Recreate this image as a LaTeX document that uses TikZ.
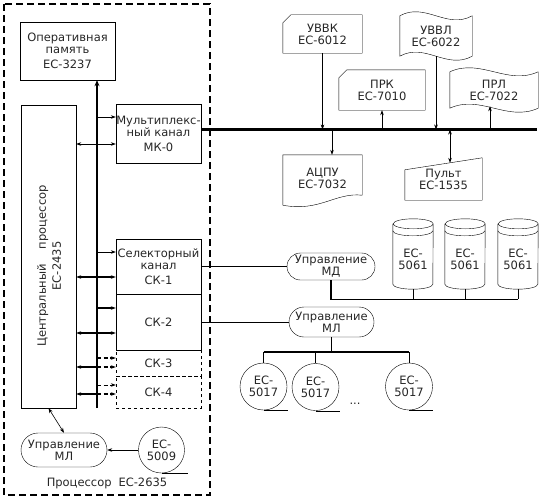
\documentclass[tikz,border=0pt]{standalone}
\usepackage{fontspec}
\setmainfont{DejaVu Sans}
\usetikzlibrary{arrows.meta,shapes.misc,calc}

% punch card outline: cut corner top left
\newcommand\cardedge[1]{%
  \draw ([xshift=8pt]#1.north west) -- (#1.north east) -- (#1.south east)
    -- (#1.south west) -- ([yshift=-8pt]#1.north west) -- cycle;}
% punched tape outline: wavy top and bottom
\newcommand\tapeedge[1]{%
  \draw (#1.north west)
    .. controls ($(#1.north west)!0.35!(#1.north east)+(0,-14)$)
            and ($(#1.north west)!0.65!(#1.north east)+(0,14)$) .. (#1.north east)
    -- (#1.south east)
    .. controls ($(#1.south west)!0.65!(#1.south east)+(0,14)$)
            and ($(#1.south west)!0.35!(#1.south east)+(0,-14)$) .. (#1.south west)
    -- cycle;}
% disk pack outline
\newcommand\diskedge[1]{%
  \draw ([yshift=-5pt]#1.north west) -- ([yshift=15pt]#1.south west)
    arc[start angle=180,end angle=360,x radius=20pt,y radius=5pt]
    -- ([yshift=-5pt]#1.north east)
    arc[start angle=0,end angle=360,x radius=20pt,y radius=5pt];
  \draw ([yshift=-12pt]#1.north west)
    arc[start angle=180,end angle=360,x radius=20pt,y radius=5pt];
  \draw ([yshift=10pt]#1.south) -- (#1.south);}

\begin{document}
\begin{tikzpicture}[x=1pt,y=-1pt,
    font=\fontsize{11.5}{12}\selectfont,text=black!85,
    >={Stealth[length=5pt,width=3.6pt]},
    box/.style={draw,align=center,inner sep=0pt,minimum width=85pt},
    dev/.style={align=center,inner sep=0pt},
    ctl/.style={draw,rounded rectangle,align=center,inner sep=1pt,
      font=\fontsize{11.5}{10.5}\selectfont},
    reel/.style={draw,circle,align=center,inner sep=0pt,minimum size=47pt},
    bus/.style={line width=2.4pt},
    thk/.style={line width=1.6pt},
    link/.style={->,line width=0.6pt},
    dlink/.style={<->,line width=0.6pt},
    dsh/.style={dash pattern=on 4pt off 2.5pt}]
  \useasboundingbox (0,0) rectangle (545,503);

  % processor
  \draw[line width=1.6pt,dash pattern=on 7pt off 4pt] (4,4) rectangle (210,495);
  \node[box,minimum width=95pt,minimum height=58pt] (mem) at (67.5,51)
    {Оперативная\\память\\[3pt]ЕС-3237};
  \node[box,minimum width=55pt,minimum height=303pt] (cpu) at (48.5,256.5) {};
  \node[rotate=90,align=center] (cputxt) at (49,266)
    {Центральный\hspace{1.3em}процессор\\[3pt]ЕС-2435};
  \node[box,minimum height=59pt] (mk) at (158.5,133.5) {Мультиплекс-\\ный канал\\[3pt]МК-0};
  \node[box,minimum height=55pt] (sk1) at (158.5,266.5) {Селекторный\\канал\\[3pt]СК-1};
  \node[box,minimum height=56pt] (sk2) at (158.5,322) {СК-2};
  \node[box,dashed,minimum height=26pt] (sk3) at (158.5,363) {СК-3};
  \node[box,dashed,minimum height=32pt] (sk4) at (158.5,392) {СК-4};
  \node[ctl,minimum width=88pt,minimum height=34pt] (mll) at (64,450) {Управление\\МЛ};
  \node[reel,minimum size=46pt] (t0) at (161.5,450) {ЕС-\\5009};
  \node (proc) at (107,483) {Процессор\hspace{0.6em}ЕС-2635};

  % bus and channel links
  \coordinate (bb) at (97,408);
  \draw[bus,-{Stealth[length=6pt,width=5pt]}] (bb) -- (bb |- mem.south);
  \coordinate (mk a) at ([yshift=16.5pt]mk.west);
  \coordinate (mk b) at ([yshift=-10.5pt]mk.west);
  \coordinate (sk1 a) at ([yshift=14.5pt]sk1.west);
  \coordinate (sk1 b) at ([yshift=-10.5pt]sk1.west);
  \coordinate (sk2 a) at ([yshift=14pt]sk2.west);
  \coordinate (sk2 b) at ([yshift=-11pt]sk2.west);
  \coordinate (sk3 a) at ([yshift=5pt]sk3.west);
  \coordinate (sk3 b) at ([yshift=-4pt]sk3.west);
  \coordinate (sk4 a) at ([yshift=7pt]sk4.west);
  \coordinate (sk4 b) at ([yshift=-2pt]sk4.west);
  \draw[link] (bb |- mk a) -- (mk a);
  \draw[dlink] (cpu.east |- mk b) -- (mk b);
  \draw[link] (bb |- sk1 a) -- (sk1 a);
  \draw[dlink,thk] (cpu.east |- sk1 b) -- (sk1 b);
  \draw[link,thk] (bb |- sk2 a) -- (sk2 a);
  \draw[dlink,thk] (cpu.east |- sk2 b) -- (sk2 b);
  \draw[link,thk,dsh] (bb |- sk3 a) -- (sk3 a);
  \draw[<-,thk] (cpu.east |- sk3 b) -- (bb |- sk3 b);
  \draw[link,thk,dsh] (bb |- sk3 b) -- (sk3 b);
  \draw[link,dsh] (bb |- sk4 a) -- (sk4 a);
  \draw[<-,thk] (cpu.east |- sk4 b) -- (bb |- sk4 b);
  \draw[link,thk,dsh] (bb |- sk4 b) -- (sk4 b);
  \draw[dlink] (cpu.south) -- (mll.north);
  \draw[link] (t0.west) -- (mll.east);
  \draw (t0.south) -- ++(26,0);

  % multiplex channel devices
  \coordinate (ch) at ([yshift=4pt]mk.east);
  \coordinate (che) at (537,129.5);
  \draw[bus] (ch) -- (che);
  \node[dev,minimum width=79pt,minimum height=38pt] (uvvk) at (322.5,34) {УВВК\\ЕС-6012};
  \cardedge{uvvk}
  \node[dev,minimum width=86pt,minimum height=40pt] (prk) at (382,90) {ПРК\\ЕС-7010};
  \cardedge{prk}
  \node[dev,minimum width=72pt,minimum height=40pt] (uvvl) at (436,36) {УВВЛ\\ЕС-6022};
  \tapeedge{uvvl}
  \node[dev,minimum width=88pt,minimum height=36pt] (prl) at (494,90) {ПРЛ\\ЕС-7022};
  \tapeedge{prl}
  \node[dev,minimum width=79pt,minimum height=46pt] (acpu) at (322.5,178) {АЦПУ\\ЕС-7032};
  \draw (acpu.north west) -- (acpu.north east) -- ([yshift=6pt]acpu.south east)
    .. controls ([xshift=-27pt,yshift=9pt]acpu.south east)
            and ([xshift=37pt,yshift=-11pt]acpu.south west) .. ([yshift=-4pt]acpu.south west)
    -- cycle;
  \node[dev,minimum width=77pt,minimum height=42pt] (pult) at (443.5,179) {Пульт\\ЕС-1535};
  \draw ([yshift=-12pt]pult.north west) -- (pult.north east) -- (pult.south east)
    -- (pult.south west) -- cycle;
  \coordinate (acpu in) at ([xshift=9.5pt]acpu.north);
  \coordinate (pult in) at ([xshift=6.5pt,yshift=-5pt]pult.north);
  \coordinate (prl in) at ([xshift=-4pt,yshift=2pt]prl.south);
  \draw[link] (uvvk.south) -- (uvvk.south |- ch);
  \draw[link] (acpu in |- ch) -- (acpu in);
  \draw[link] (prk.south |- ch) -- (prk.south);
  \draw[link] (uvvl.south) -- (uvvl.south |- ch);
  \draw[dlink] (pult in |- ch) -- (pult in);
  \draw[link] (prl in |- ch) -- (prl in);

  % selector channel 1: disks
  \node[ctl,minimum width=90pt,minimum height=27pt] (md) at (331,266.5) {Управление\\МД};
  \draw[thk] (sk1.east) -- (md.west);
  \node[dev,minimum width=40pt,minimum height=80pt] (d1) at (413,259) {ЕС-\\5061};
  \diskedge{d1}
  \node[dev,minimum width=40pt,minimum height=80pt] (d2) at (465,259) {ЕС-\\5061};
  \diskedge{d2}
  \node[dev,minimum width=40pt,minimum height=80pt] (d3) at (518,259) {ЕС-\\5061};
  \diskedge{d3}
  \draw[line width=1.4pt] (md.south) |- (d3.south);

  % selector channel 2: tapes
  \node[ctl,minimum width=87pt,minimum height=30pt] (mlr) at (331.5,322) {Управление\\МЛ};
  \draw (sk2.east) -- (mlr.west);
  \node[reel] (t1) at (263.5,386.5) {ЕС-\\5017};
  \node[reel] (t2) at (315.5,387) {ЕС-\\5017};
  \node[reel] (t3) at (409,386.5) {ЕС-\\5017};
  \coordinate (tb) at (331.5,352);
  \draw (mlr.south) -- (tb);
  \draw[line width=1.4pt] (t1.north |- tb) -- (t3.north |- tb);
  \draw (t1.north |- tb) -- (t1.north);
  \draw (t2.north |- tb) -- (t2.north);
  \draw (t3.north |- tb) -- (t3.north);
  \draw (t1.south) -- ++(24,0);
  \draw (t2.south) -- ++(24,0);
  \draw (t3.south) -- ++(24,0);
  \node (dots) at (355,404) {...};
\end{tikzpicture}
\end{document}
